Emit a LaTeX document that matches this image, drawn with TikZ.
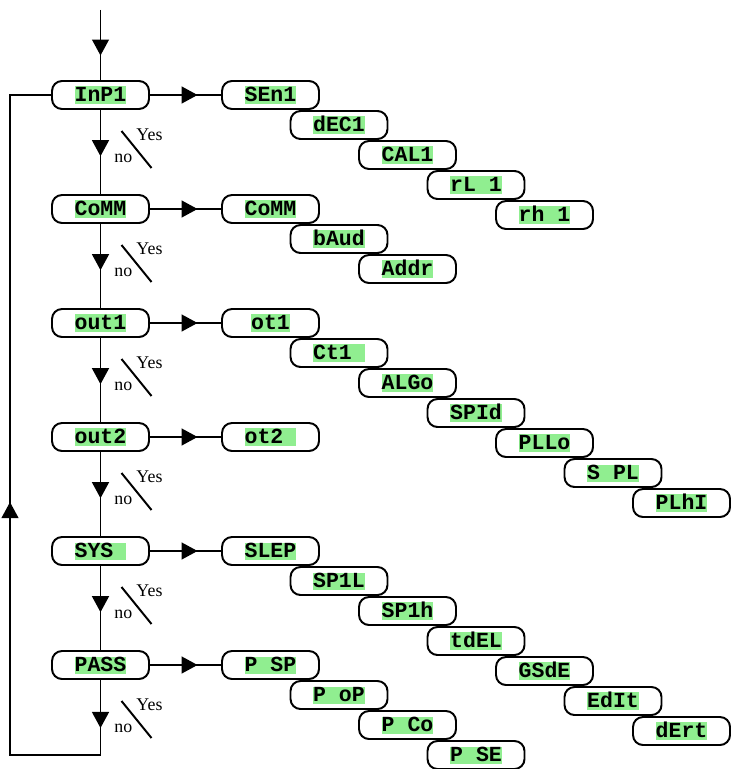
\documentclass[tikz,border=0pt]{standalone}
\usepackage{fontspec}
\setmainfont{Liberation Serif}
\newfontfamily\lcdfont{Liberation Mono}
\usetikzlibrary{arrows.meta,decorations.markings}
\definecolor{lcdgreen}{HTML}{90EE90}
% green display text, fixed height
\newcommand{\lcd}[1]{{\setlength{\fboxsep}{0pt}\colorbox{lcdgreen}{\rule[-1.4pt]{0pt}{12.1pt}\lcdfont\bfseries #1}}}
\newcommand{\gap}{\hphantom{0}}
\begin{document}
\begin{tikzpicture}[line width=1.4pt,font=\fontsize{12.7}{14}\selectfont,
  menu/.style={draw,fill=white,rounded corners=0.25cm,minimum width=2.425cm,
    minimum height=0.7cm,inner sep=0pt,font=\fontsize{15.3}{16}\selectfont},
  midarrow/.style={postaction={decorate},decoration={markings,
    mark=at position #1 with {\arrow{Triangle[length=0.4cm,width=0.42cm]}}}},
  looparrow/.style={postaction={decorate},decoration={markings,
    mark=at position 1.2cm with {\arrow{Triangle[length=0.4cm,width=0.42cm]}},
    mark=at position 10.46cm with {\arrow{Triangle[length=0.4cm,width=0.42cm]}}}},
  answer/.style={inner sep=0pt,anchor=base west}]
\useasboundingbox (0,0) rectangle (18.275,-19.225);

% main menu
\node[menu] (inp)  at (2.5125,-2.375)  {\lcd{InP1}};
\node[menu] (comm) at (2.5125,-5.225)  {\lcd{CoMM}};
\node[menu] (outa) at (2.5125,-8.075)  {\lcd{out1}};
\node[menu] (outb) at (2.5125,-10.925) {\lcd{out2}};
\node[menu] (sys)  at (2.5125,-13.775) {\lcd{SYS\gap}};
\node[menu] (pass) at (2.5125,-16.625) {\lcd{PASS}};

% sub menus
\foreach \lbl [count=\k from 0] in {SEn1,dEC1,CAL1,rL\gap 1,rh\gap 1}
  \node[menu] (inp-\k) at (6.7625+1.7125*\k,-2.375-0.75*\k) {\lcd{\lbl}};
\foreach \lbl [count=\k from 0] in {CoMM,bAud,Addr}
  \node[menu] (comm-\k) at (6.7625+1.7125*\k,-5.225-0.75*\k) {\lcd{\lbl}};
\foreach \lbl [count=\k from 0] in {ot1,Ct1\gap,ALGo,SPId,PLLo,S\gap PL,PLhI}
  \node[menu] (outa-\k) at (6.7625+1.7125*\k,-8.075-0.75*\k) {\lcd{\lbl}};
\node[menu] (outb-0) at (6.7625,-10.925) {\lcd{ot2\gap}};
\foreach \lbl [count=\k from 0] in {SLEP,SP1L,SP1h,tdEL,GSdE,EdIt,dErt}
  \node[menu] (sys-\k) at (6.7625+1.7125*\k,-13.775-0.75*\k) {\lcd{\lbl}};
\foreach \lbl [count=\k from 0] in {P\gap SP,P\gap oP,P\gap Co,P\gap SE}
  \node[menu] (pass-\k) at (6.7625+1.7125*\k,-16.625-0.75*\k) {\lcd{\lbl}};

% flow
\coordinate (entry) at (2.5125,-0.25);
\coordinate (loopbr) at (2.5125,-18.875);
\coordinate (loopbl) at (0.25,-18.875);
\coordinate (looptl) at (0.25,-2.375);
\draw[midarrow=0.65] (entry) -- (inp);
\draw[midarrow=0.55] (inp) -- (comm);
\draw[midarrow=0.55] (comm) -- (outa);
\draw[midarrow=0.55] (outa) -- (outb);
\draw[midarrow=0.55] (outb) -- (sys);
\draw[midarrow=0.55] (sys) -- (pass);
\draw[looparrow] (pass) -- (loopbr) -- (loopbl) -- (looptl) -- (inp);
\foreach \m in {inp,comm,outa,outb,sys,pass}
  \draw[midarrow=0.67] (\m) -- (\m-0);

% yes / no switches
\foreach \m in {inp,comm,outa,outb,sys,pass} {
  \draw ([shift={(0.525,-0.9)}]\m.center) -- ([shift={(1.275,-1.825)}]\m.center);
  \node[answer] (yes-\m) at ([shift={(0.875,-1.125)}]\m.center) {Yes};
  \node[answer] (no-\m) at ([shift={(0.325,-1.675)}]\m.center) {no};
}
\end{tikzpicture}
\end{document}
